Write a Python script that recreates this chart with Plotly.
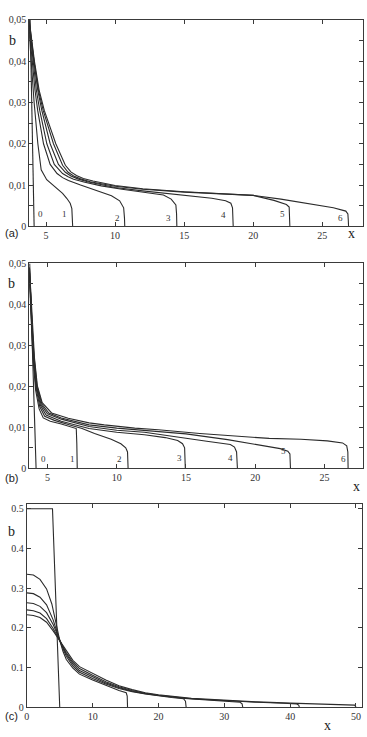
import plotly.graph_objects as go

# ---------------- data ----------------
# Panel (a)
a_x = [
    [3.85, 4.14],
    [3.78, 3.95, 4.14, 4.41, 4.65, 5.05, 5.41, 5.8, 6.2, 6.5, 6.75, 6.87, 6.92, 6.93],
    [3.78, 4.0, 4.2, 4.4, 4.82, 5.3, 5.8, 6.2, 6.62, 7.5, 8.5, 9.74, 10.33, 10.62, 10.68, 10.7],
    [3.78, 4.05, 4.3, 4.55, 5.06, 5.6, 6.2, 6.6, 7.0, 7.81, 9.0, 10.5, 12.62, 13.5, 14.06, 14.4, 14.45, 14.47],
    [3.78, 4.1, 4.4, 4.7, 5.3, 5.9, 6.4, 6.8, 7.3, 8.0, 10.0, 12.0, 15.0, 17.0, 18.0, 18.38, 18.5, 18.53, 18.55],
    [3.78, 4.13, 4.45, 4.8, 5.54, 6.2, 6.6, 7.0, 7.5, 8.2, 10.0, 12.0, 15.0, 18.0, 20.0, 21.5, 22.4, 22.6, 22.63, 22.65],
    [3.78, 4.16, 4.5, 4.88, 5.71, 6.4, 6.8, 7.2, 7.7, 8.4, 10.0, 12.0, 15.0, 18.0, 20.0, 22.0, 24.0, 25.8, 26.7, 26.85, 26.88, 26.9],
]
a_b = [
    [0.05, 0.0],
    [0.047, 0.038, 0.03, 0.02, 0.0137, 0.0113, 0.0103, 0.0093, 0.008, 0.0068, 0.0056, 0.0043, 0.002, 0.0],
    [0.048, 0.04, 0.033, 0.028, 0.02, 0.015, 0.0128, 0.0118, 0.0111, 0.01, 0.0089, 0.0074, 0.0062, 0.0045, 0.002, 0.0],
    [0.049, 0.04, 0.033, 0.028, 0.02, 0.015, 0.0128, 0.012, 0.0114, 0.0107, 0.0098, 0.009, 0.0081, 0.0076, 0.0066, 0.0052, 0.003, 0.0],
    [0.049, 0.04, 0.033, 0.028, 0.02, 0.015, 0.0131, 0.0122, 0.0115, 0.0108, 0.0094, 0.0086, 0.0076, 0.0068, 0.0062, 0.0056, 0.0045, 0.002, 0.0],
    [0.05, 0.04, 0.033, 0.028, 0.02, 0.0148, 0.0131, 0.0122, 0.0115, 0.0108, 0.0097, 0.009, 0.0083, 0.0078, 0.0075, 0.0063, 0.0053, 0.0047, 0.002, 0.0],
    [0.05, 0.04, 0.033, 0.028, 0.02, 0.0148, 0.0132, 0.0123, 0.0116, 0.011, 0.0099, 0.0091, 0.0084, 0.0079, 0.0075, 0.0066, 0.0055, 0.0045, 0.0037, 0.003, 0.0015, 0.0],
]
a_lab_x = [4.57, 6.37, 10.15, 13.89, 17.85, 22.1, 26.3]
a_lab_y = [0.0031, 0.0031, 0.0021, 0.0021, 0.0027, 0.0031, 0.0021]

# Panel (b)
b_x = [
    [3.72, 4.18],
    [3.7, 3.82, 3.95, 4.15, 4.4, 4.7, 5.2, 6.0, 6.8, 7.08, 7.12, 7.15],
    [3.7, 3.84, 3.98, 4.18, 4.45, 4.8, 5.5, 6.5, 7.5, 8.4, 9.0, 9.6, 10.3, 10.65, 10.78, 10.82],
    [3.7, 3.86, 4.0, 4.2, 4.5, 4.9, 6.0, 8.0, 10.0, 12.0, 13.5, 14.4, 14.75, 14.9, 14.95],
    [3.7, 3.87, 4.02, 4.22, 4.55, 5.0, 6.0, 8.0, 10.0, 12.0, 14.9, 16.5, 18.2, 18.5, 18.65, 18.71],
    [3.7, 3.88, 4.04, 4.25, 4.6, 5.1, 6.0, 8.0, 10.0, 12.0, 15.0, 18.0, 20.4, 21.8, 22.35, 22.5, 22.54],
    [3.7, 3.9, 4.06, 4.27, 4.62, 5.3, 6.5, 8.0, 9.1, 11.3, 13.0, 16.0, 19.0, 21.0, 23.3, 25.2, 26.3, 26.6, 26.68, 26.7],
]
b_b = [
    [0.05, 0.0],
    [0.046, 0.035, 0.027, 0.019, 0.0145, 0.0123, 0.0115, 0.0108, 0.0101, 0.0097, 0.006, 0.0],
    [0.047, 0.035, 0.027, 0.0195, 0.015, 0.0127, 0.0117, 0.0107, 0.0097, 0.0085, 0.0078, 0.0071, 0.006, 0.005, 0.004, 0.0],
    [0.048, 0.035, 0.027, 0.0198, 0.0153, 0.013, 0.0115, 0.0097, 0.0088, 0.0082, 0.0075, 0.0068, 0.006, 0.005, 0.0],
    [0.048, 0.035, 0.027, 0.02, 0.0155, 0.0133, 0.012, 0.0102, 0.0093, 0.0088, 0.0075, 0.0066, 0.0058, 0.0052, 0.004, 0.0],
    [0.049, 0.035, 0.027, 0.02, 0.0157, 0.0135, 0.0123, 0.0106, 0.0098, 0.0093, 0.0084, 0.007, 0.0057, 0.0048, 0.0042, 0.0035, 0.0],
    [0.049, 0.035, 0.027, 0.0202, 0.016, 0.0135, 0.0122, 0.0111, 0.0106, 0.0098, 0.0094, 0.0085, 0.0077, 0.0073, 0.0071, 0.0067, 0.0062, 0.0055, 0.004, 0.0],
]
b_lab_x = [4.71, 6.8, 10.21, 14.52, 18.23, 22.06, 26.37]
b_lab_y = [0.0022, 0.0022, 0.0022, 0.0026, 0.0026, 0.0042, 0.0022]

# Panel (c)
c_x = [
    [0, 3.9, 5.0],
    [0, 1, 2, 3, 3.8, 4.5, 5, 5.5, 6, 7, 8, 10, 12, 14, 15.1, 15.25, 15.3],
    [0, 1, 2, 3, 4, 4.5, 5, 5.5, 6, 7, 8, 10, 12, 14, 16, 18, 20, 22, 23.8, 24.1, 24.2],
    [0, 1, 2, 3, 4, 5, 5.5, 6, 7, 8, 10, 12, 14, 16, 18, 20, 24, 28, 31, 32.4, 32.7, 32.8],
    [0, 1, 2, 3, 4, 5, 6, 7, 8, 10, 12, 14, 16, 18, 20, 25, 30, 35, 39, 41, 41.3, 41.4],
    [0, 1, 2, 3, 4, 5, 6, 7, 8, 10, 12, 14, 16, 18, 20, 25, 30, 35, 40, 45, 48, 49.8, 50],
]
c_b = [
    [0.5, 0.5, 0.0],
    [0.335, 0.333, 0.322, 0.298, 0.26, 0.205, 0.168, 0.14, 0.12, 0.098, 0.083, 0.068, 0.054, 0.042, 0.036, 0.028, 0.0],
    [0.288, 0.286, 0.277, 0.258, 0.22, 0.193, 0.168, 0.147, 0.128, 0.103, 0.088, 0.072, 0.058, 0.047, 0.039, 0.033, 0.028, 0.024, 0.021, 0.015, 0.0],
    [0.263, 0.261, 0.254, 0.238, 0.208, 0.168, 0.15, 0.133, 0.108, 0.092, 0.076, 0.061, 0.049, 0.04, 0.034, 0.029, 0.022, 0.017, 0.014, 0.012, 0.008, 0.0],
    [0.245, 0.243, 0.237, 0.223, 0.198, 0.168, 0.137, 0.113, 0.097, 0.08, 0.064, 0.051, 0.042, 0.035, 0.03, 0.021, 0.016, 0.012, 0.0095, 0.008, 0.005, 0.0],
    [0.233, 0.231, 0.226, 0.214, 0.192, 0.168, 0.141, 0.118, 0.102, 0.085, 0.068, 0.054, 0.044, 0.036, 0.031, 0.022, 0.017, 0.013, 0.01, 0.0075, 0.006, 0.005, 0.0],
]

ab_yticks = [0, 0.01, 0.02, 0.03, 0.04, 0.05]
ab_yticktext = ["0", "0,01", "0,02", "0,03", "0,04", "0,05"]
ab_xticks = [5, 10, 15, 20, 25]
c_yticks = [0, 0.1, 0.2, 0.3, 0.4, 0.5]
c_yticktext = ["0", "0.1", "0.2", "0.3", "0.4", "0.5"]
c_xticks = [0, 10, 20, 30, 40, 50]
curve_names = ["0", "1", "2", "3", "4", "5", "6"]

# ---------------- figure ----------------
LINE = "#2b2b2b"
AX = "#3a3a3a"
SERIF = "Liberation Serif"

fig = go.Figure()

for xs, ys in zip(a_x, a_b):
    fig.add_trace(go.Scatter(x=xs, y=ys, mode="lines", line=dict(color=LINE, width=1.1),
                             xaxis="x", yaxis="y", showlegend=False, hoverinfo="skip"))
for xs, ys in zip(b_x, b_b):
    fig.add_trace(go.Scatter(x=xs, y=ys, mode="lines", line=dict(color=LINE, width=1.1),
                             xaxis="x2", yaxis="y2", showlegend=False, hoverinfo="skip"))
for xs, ys in zip(c_x, c_b):
    fig.add_trace(go.Scatter(x=xs, y=ys, mode="lines", line=dict(color=LINE, width=1.1),
                             xaxis="x3", yaxis="y3", showlegend=False, hoverinfo="skip"))

tickfont = dict(family=SERIF, size=10, color="#333")
common_ax = dict(showline=True, linecolor=AX, linewidth=1, mirror="ticks", ticks="inside",
                 ticklen=4, tickcolor=AX, showgrid=False, zeroline=False, tickfont=tickfont,
                 fixedrange=True)

layout = dict(
    width=367, height=737, margin=dict(l=0, r=0, t=0, b=0),
    paper_bgcolor="white", plot_bgcolor="white", showlegend=False,
    xaxis=dict(domain=[0.0744, 0.99], range=[3.78, 27.97], anchor="y",
               tickvals=ab_xticks, ticklabelstandoff=0, **common_ax),
    yaxis=dict(domain=[0.696, 0.981], range=[0, 0.05], anchor="x",
               tickvals=ab_yticks, ticktext=ab_yticktext,
               minor=dict(dtick=0.005, ticks="inside", ticklen=4, tickcolor=AX), **common_ax),
    xaxis2=dict(domain=[0.0744, 0.99], range=[3.68, 27.8], anchor="y2",
                tickvals=ab_xticks, ticklabelstandoff=0, **common_ax),
    yaxis2=dict(domain=[0.3623, 0.645], range=[0, 0.05], anchor="x2",
                tickvals=ab_yticks, ticktext=ab_yticktext,
                minor=dict(dtick=0.005, ticks="inside", ticklen=4, tickcolor=AX), **common_ax),
    xaxis3=dict(domain=[0.068, 0.986], range=[0, 50.9], anchor="y3",
                tickvals=c_xticks, ticklabelstandoff=0, **common_ax),
    yaxis3=dict(domain=[0.033, 0.3125], range=[0, 0.511], anchor="x3",
                tickvals=c_yticks, ticktext=c_yticktext, **common_ax),
)
fig.update_layout(**layout)

annotations = []
# curve numbers
for i, t in enumerate(curve_names):
    annotations.append(dict(x=a_lab_x[i], y=a_lab_y[i], xref="x", yref="y", text=t, showarrow=False,
                            font=dict(family=SERIF, size=9, color="#333")))
    annotations.append(dict(x=b_lab_x[i], y=b_lab_y[i], xref="x2", yref="y2", text=t, showarrow=False,
                            font=dict(family=SERIF, size=9, color="#333")))

# axis letters and panel labels (pixel-based paper positions)
def px(xp):
    return xp / 367.0

def py(yp):
    return 1 - yp / 737.0

for (bx, by), (xx, xy), (lx, ly), lab in [
    ((11, 35), (351, 231), (10, 231), "(a)"),
    ((10, 282), (356, 488), (10, 480), "(b)"),
    ((10, 534), (327, 731), (10, 722), "(c)"),
]:
    annotations.append(dict(x=px(bx), y=py(by), xref="paper", yref="paper", text="b", showarrow=False,
                            font=dict(family=SERIF, size=14, color="#222"), xanchor="center", yanchor="middle"))
    annotations.append(dict(x=px(xx), y=py(xy), xref="paper", yref="paper", text="x", showarrow=False,
                            font=dict(family=SERIF, size=14, color="#222"), xanchor="center", yanchor="middle"))
    annotations.append(dict(x=px(lx), y=py(ly), xref="paper", yref="paper", text=lab, showarrow=False,
                            font=dict(family="Liberation Sans", size=11, color="#222"),
                            xanchor="center", yanchor="middle"))

fig.update_layout(annotations=annotations)
fig.write_html("out.html")
